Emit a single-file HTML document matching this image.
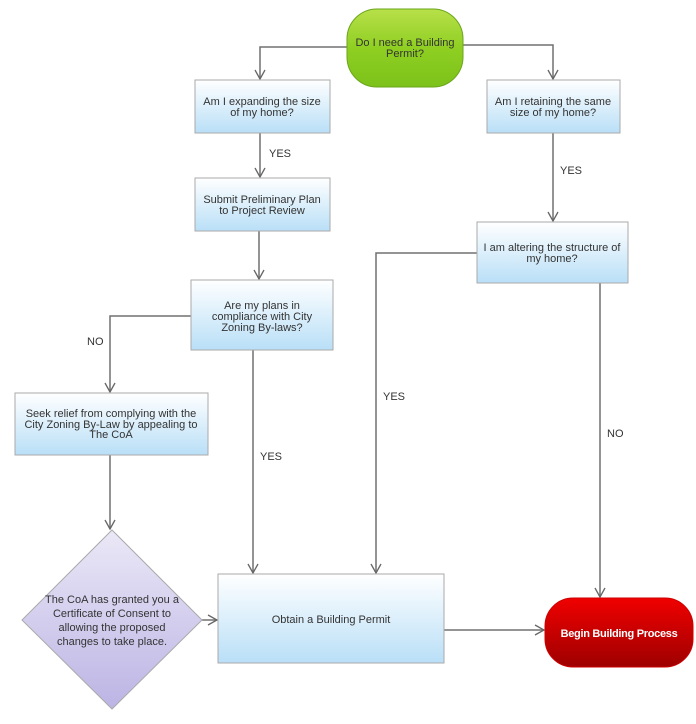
<!DOCTYPE html>
<html><head><meta charset="utf-8"><style>
html,body{margin:0;padding:0;background:#fff;}
svg{display:block;}
text{font-family:"Liberation Sans",Arial,sans-serif;font-size:11px;fill:#333;}
</style></head><body>
<svg width="696" height="724" viewBox="0 0 696 724" xmlns="http://www.w3.org/2000/svg">
<defs>
<linearGradient id="b" x1="0" y1="0" x2="0" y2="1"><stop offset="0" stop-color="#ffffff"/><stop offset="1" stop-color="#b9dff7"/></linearGradient>
<linearGradient id="g" x1="0" y1="0" x2="0" y2="1"><stop offset="0" stop-color="#b8e04a"/><stop offset="0.5" stop-color="#8fcf22"/><stop offset="1" stop-color="#7cc21a"/></linearGradient>
<linearGradient id="r" x1="0" y1="0" x2="0" y2="1"><stop offset="0" stop-color="#f00000"/><stop offset="1" stop-color="#9e0000"/></linearGradient>
<linearGradient id="p" x1="0" y1="0" x2="0" y2="1"><stop offset="0" stop-color="#ebe8f7"/><stop offset="1" stop-color="#bcb4e4"/></linearGradient>
<marker id="a" markerWidth="12" markerHeight="12" refX="10" refY="6" orient="auto" markerUnits="userSpaceOnUse"><path d="M1,1 L10,6 L1,11" fill="none" stroke="#666" stroke-width="1.3"/></marker>
</defs>
<g fill="none" stroke="#707070" stroke-width="1.5">
<path d="M347,47 H260 V79" marker-end="url(#a)"/>
<path d="M463,45 H553 V79" marker-end="url(#a)"/>
<path d="M260,133 V177" marker-end="url(#a)"/>
<path d="M259,231 V279" marker-end="url(#a)"/>
<path d="M191,316 H110 V392" marker-end="url(#a)"/>
<path d="M253,350 V573" marker-end="url(#a)"/>
<path d="M553,133 V221" marker-end="url(#a)"/>
<path d="M477,253 H376 V573" marker-end="url(#a)"/>
<path d="M600,283 V597" marker-end="url(#a)"/>
<path d="M110,455 V529" marker-end="url(#a)"/>
<path d="M202,620 H217" marker-end="url(#a)"/>
<path d="M444,630 H544" marker-end="url(#a)"/>
</g>
<rect x="347" y="9" width="116" height="78" rx="30" fill="url(#g)" stroke="#6aa61a"/>
<text x="405" y="46" text-anchor="middle">Do I need a Building</text><text x="405" y="57" text-anchor="middle">Permit?</text>
<rect x="195" y="80" width="135" height="53" fill="url(#b)" stroke="#aaa"/>
<text x="262" y="105" text-anchor="middle">Am I expanding the size</text><text x="262" y="116" text-anchor="middle">of my home?</text>
<rect x="487" y="80" width="133" height="53" fill="url(#b)" stroke="#aaa"/>
<text x="553" y="105" text-anchor="middle">Am I retaining the same</text><text x="553" y="116" text-anchor="middle">size of my home?</text>
<rect x="195" y="178" width="135" height="53" fill="url(#b)" stroke="#aaa"/>
<text x="262" y="203" text-anchor="middle">Submit Preliminary Plan</text><text x="262" y="214" text-anchor="middle">to Project Review</text>
<rect x="191" y="280" width="142" height="70" fill="url(#b)" stroke="#aaa"/>
<text x="262" y="309" text-anchor="middle">Are my plans in</text><text x="262" y="320" text-anchor="middle">compliance with City</text><text x="262" y="331" text-anchor="middle">Zoning By-laws?</text>
<rect x="477" y="222" width="151" height="61" fill="url(#b)" stroke="#aaa"/>
<text x="552" y="251" text-anchor="middle">I am altering the structure of</text><text x="552" y="262" text-anchor="middle">my home?</text>
<rect x="15" y="393" width="193" height="62" fill="url(#b)" stroke="#aaa"/>
<text x="111" y="417" text-anchor="middle">Seek relief from complying with the</text><text x="111" y="428" text-anchor="middle">City Zoning By-Law by appealing to</text><text x="111" y="438" text-anchor="middle">The CoA</text>
<polygon points="112,530 202,620 112,709 22,620" fill="url(#p)" stroke="#aaa"/>
<text x="112" y="603" text-anchor="middle">The CoA has granted you a</text><text x="112" y="617" text-anchor="middle">Certificate of Consent to</text><text x="112" y="631" text-anchor="middle">allowing the proposed</text><text x="112" y="645" text-anchor="middle">changes to take place.</text>
<rect x="218" y="574" width="226" height="89" fill="url(#b)" stroke="#aaa"/>
<text x="331" y="623" text-anchor="middle">Obtain a Building Permit</text>
<rect x="545" y="598" width="148" height="69" rx="28" fill="url(#r)" stroke="#c00"/>
<text x="619" y="637" text-anchor="middle" style="fill:#fff;font-weight:bold;letter-spacing:-0.3px">Begin Building Process</text>
<text x="269" y="157">YES</text>
<text x="560" y="174">YES</text>
<text x="87" y="345">NO</text>
<text x="260" y="460">YES</text>
<text x="383" y="400">YES</text>
<text x="607" y="437">NO</text>
</svg>
</body></html>
